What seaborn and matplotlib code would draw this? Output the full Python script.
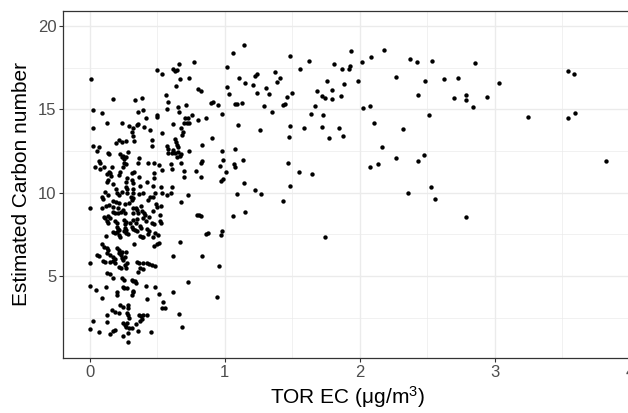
import matplotlib
matplotlib.use("Agg")
import matplotlib.pyplot as plt
import seaborn as sns
import pandas as pd
from matplotlib.ticker import MultipleLocator

# (TOR EC, estimated carbon number), grouped by EC range
low_points = [
    (0.502,17.36),(0.534,17.12),(0.009,16.82),(0.566,15.88),(0.176,15.6),(0.337,15.56),(0.391,15.68),
    (0.579,15.46),(0.028,14.96),(0.095,14.78),(0.361,14.86),(0.394,14.96),(0.571,15.0),(0.502,14.66),
    (0.497,14.56),(0.418,14.5),(0.127,14.2),(0.238,14.16),(0.292,14.0),(0.324,13.86),(0.349,14.06),
    (0.361,14.12),(0.023,13.88),(0.406,13.96),(0.448,13.76),(0.534,13.6),(0.312,13.62),(0.32,13.4),
    (0.332,13.1),(0.46,13.16),(0.028,12.8),(0.068,12.76),(0.194,12.96),(0.218,13.16),(0.238,13.06),
    (0.27,13.08),(0.46,12.8),(0.574,12.8),(0.579,12.62),(0.584,12.36),(0.058,12.52),(0.139,12.4),
    (0.142,12.32),(0.226,12.32),(0.238,12.16),(0.25,12.22),(0.255,12.0),(0.27,12.12),(0.287,12.46),
    (0.369,12.1),(0.073,11.92),(0.078,11.76),(0.255,11.8),(0.27,11.72),(0.245,11.56),(0.361,11.76),
    (0.433,11.76),(0.477,11.76),(0.514,11.66),(0.041,11.52),(0.107,11.52),(0.164,11.56),(0.078,11.4),
    (0.142,11.26),(0.152,11.16),(0.127,11.1),(0.159,11.02),(0.226,11.26),(0.218,11.06),(0.312,11.16),
    (0.329,11.26),(0.477,11.2),(0.534,11.36),(0.48,10.9),(0.139,10.76),(0.132,10.62),(0.176,10.5),
    (0.275,10.86),(0.27,10.66),(0.312,10.76),(0.32,10.56),(0.369,10.96),(0.423,10.66),(0.374,10.42),
    (0.472,10.4),(0.197,10.2),(0.206,10.0),(0.221,9.86),(0.27,10.36),(0.28,10.2),(0.32,10.2),
    (0.324,10.0),(0.527,10.36),(0.115,10.06),(0.09,9.76),(0.097,9.62),(0.139,9.86),(0.238,10.06),
    (0.275,10.0),(0.305,9.76),(0.32,9.66),(0.369,9.9),(0.394,10.0),(0.485,9.96),(0.472,9.72),
    (0.534,10.0),(0.571,9.86),(0.0,9.06),(0.095,9.1),(0.122,9.22),(0.171,9.5),(0.194,9.46),
    (0.221,9.4),(0.147,9.26),(0.176,9.16),(0.208,9.06),(0.26,9.3),(0.29,9.4),(0.317,9.56),
    (0.344,9.1),(0.354,8.96),(0.381,9.22),(0.435,9.56),(0.448,9.76),(0.49,9.32),(0.497,9.16),
    (0.527,9.22),(0.107,8.56),(0.139,8.6),(0.152,8.46),(0.176,8.86),(0.191,8.76),(0.213,8.76),
    (0.233,8.86),(0.25,8.96),(0.263,8.76),(0.32,9.06),(0.324,8.8),(0.359,8.76),(0.386,8.9),
    (0.403,8.76),(0.413,8.66),(0.443,8.56),(0.472,8.9),(0.522,8.66),(0.117,8.46),(0.127,8.32),
    (0.134,8.2),(0.189,8.3),(0.201,8.16),(0.255,8.36),(0.27,8.26),(0.265,8.1),(0.3,8.2),
    (0.32,8.36),(0.349,8.4),(0.344,8.16),(0.398,8.46),(0.418,8.32),(0.46,8.2),(0.477,8.12),
    (0.522,8.3),(0.529,8.16),(0.201,7.96),(0.213,7.8),(0.206,7.66),(0.221,7.76),(0.263,7.86),
    (0.27,7.76),(0.255,7.7),(0.312,7.96),(0.324,7.8),(0.337,7.76),(0.349,7.68),(0.374,8.02),
    (0.384,7.86),(0.423,7.8),(0.438,7.7),(0.431,7.5),(0.12,7.4),(0.176,7.66),(0.189,7.56),
    (0.218,7.46),(0.226,7.32),(0.27,7.6),(0.282,7.5),(0.374,7.4),(0.386,7.36),(0.398,7.32),
    (0.485,7.56),(0.51,7.46),(0.467,7.32),(0.093,6.9),(0.107,6.76),(0.127,6.66),(0.139,6.56),
    (0.329,6.9),(0.477,6.8),(0.497,6.9),(0.517,6.96),(0.206,6.66),(0.221,6.56),(0.238,6.46),
    (0.268,6.46),(0.127,6.36),(0.152,6.26),(0.053,6.26),(0.073,6.2),(0.176,6.16),(0.189,6.02),
    (0.171,5.92),(0.218,6.36),(0.231,6.26),(0.263,6.16),(0.097,5.92),(0.115,5.86),(0.152,5.82),
    (0.189,5.76),(0.241,6.06),(0.25,5.96),(0.263,5.66),(0.275,5.76),(0.354,5.84),(0.369,5.76),
    (0.394,5.8),(0.423,5.76),(0.443,5.7),(0.46,5.66),(0.482,5.62),(0.374,5.46),(0.398,5.4),
    (0.216,5.56),(0.233,5.5),(0.268,5.46),(0.0,5.8),(0.132,5.16),(0.152,5.12),(0.176,4.86),
    (0.357,5.26),(0.243,4.88),(0.255,4.76),(0.312,4.76),(0.324,4.7),(0.337,4.72),(0.344,4.56),
    (0.006,4.42),(0.048,4.16),(0.122,4.32),(0.201,4.02),(0.206,3.86),(0.245,4.32),(0.255,4.26),
    (0.275,4.26),(0.32,4.12),(0.324,4.02),(0.312,3.86),(0.418,4.4),(0.485,4.32),(0.09,3.7),
    (0.512,3.9),(0.541,3.46),(0.534,3.06),(0.559,3.06),(0.423,3.6),(0.226,3.26),(0.245,3.16),
    (0.167,2.96),(0.189,2.86),(0.287,3.26),(0.282,3.06),(0.127,2.66),(0.028,2.3),(0.221,2.8),
    (0.277,2.76),(0.287,2.66),(0.364,2.66),(0.379,2.6),(0.398,2.66),(0.423,2.66),(0.295,2.46),
    (0.389,2.4),(0.127,2.26),(0.073,1.66),(0.0,1.8),(0.189,1.76),(0.176,1.7),(0.245,2.16),
    (0.263,2.06),(0.275,2.2),(0.27,1.96),(0.295,1.86),(0.282,1.56),(0.315,1.86),(0.344,2.12),
    (0.361,1.7),(0.374,2.3),(0.152,1.5),(0.245,1.4),(0.453,1.66),(0.285,1.06),
]

mid_points = [
    (1.144,18.85),(1.06,18.36),(0.773,17.85),(0.665,17.71),(1.015,17.51),(0.616,17.4),(0.63,17.31),
    (0.65,17.35),(0.67,16.83),(0.739,16.87),(1.109,16.89),(1.151,16.59),(1.212,16.45),(1.225,17.0),
    (1.237,17.11),(1.371,17.23),(1.41,16.89),(1.39,16.65),(0.638,16.39),(1.015,16.32),(1.306,16.26),
    (0.803,16.21),(0.825,16.09),(1.035,15.91),(1.242,15.99),(1.329,15.91),(0.897,15.36),(0.917,15.42),
    (0.953,15.26),(0.714,15.28),(1.077,15.3),(1.09,15.31),(1.131,15.38),(1.292,15.21),(1.435,15.26),
    (1.447,15.3),(0.657,15.12),(1.349,14.84),(0.664,14.84),(0.983,14.72),(0.759,14.66),(0.709,14.46),
    (0.726,14.46),(0.805,14.37),(0.862,14.46),
    (0.62,14.11),(0.70,14.16),(0.72,14.19),(0.74,14.16),(1.097,14.08),(1.262,13.77),(0.68,13.86),
    (0.694,13.65),(0.685,13.45),(0.633,13.22),(0.643,13.06),(0.645,12.86),(0.657,12.76),(0.83,12.86),
    (0.907,13.26),(1.079,12.62),(0.983,12.5),(0.736,12.5),(0.62,12.56),(0.633,12.36),(0.657,12.42),
    (0.67,12.2),(0.68,12.3),(0.645,12.16),(0.608,12.36),(0.99,11.96),(1.138,11.94),(0.83,11.9),
    (0.825,11.78),(1.07,11.7),(1.075,11.56),(0.966,11.6),(0.677,11.8),(0.60,11.7),(0.61,11.4),
    (0.70,11.3),(0.786,11.31),(1.01,11.22),(0.70,10.92),(0.823,10.92),(0.99,10.82),(0.975,10.7),
    (1.144,10.56),(0.608,10.36),(1.228,10.16),(1.272,9.92),(1.09,9.92),(0.603,9.96),(0.731,9.88),
    (0.677,9.46),(1.43,9.52),(0.798,8.68),(0.81,8.64),(0.827,8.58),(1.153,8.86),(1.064,8.62),
    (0.86,7.52),(0.875,7.56),(0.983,7.7),(0.971,7.44),
    (0.67,7.06),(0.616,6.2),(0.83,6.18),(0.961,5.62),(0.731,4.66),(0.62,4.04),(0.941,3.72),
    (0.665,2.7),(0.682,1.96),
]

high_points = [
    (2.18,18.54),(1.936,18.49),(1.484,18.21),(2.086,18.15),(2.375,18.01),(2.422,17.82),(2.537,17.92),
    (2.017,17.82),(1.625,17.89),(1.81,17.71),(1.93,17.61),(1.92,17.39),(1.869,17.39),(1.558,17.43),
    (2.266,16.95),(1.99,16.69),(1.756,16.69),(1.886,16.51),(2.483,16.68),(2.622,16.83),(2.727,16.87),
    (1.682,16.09),(1.795,16.14),(1.501,15.99),(1.462,15.75),(1.719,15.79),(1.741,15.65),(1.795,15.6),
    (1.862,15.81),(2.432,15.86),(2.70,15.66),(1.667,15.17),(2.076,15.17),(2.024,15.07),(1.64,14.73),
    (1.73,14.63),(2.513,14.68),(2.104,14.2),(1.482,14.0),(1.588,13.86),(1.719,13.92),(1.85,13.88),
    (2.323,13.82),
    (1.474,13.31),(1.77,13.3),(1.878,13.42),(2.167,12.72),(1.467,11.76),(1.551,11.24),(1.645,11.1),
    (1.484,10.41),(2.079,11.52),(2.138,11.72),(2.266,12.08),(2.434,11.92),(2.473,12.26),(2.355,10.0),
    (2.528,10.32),(2.557,9.62),(1.743,7.32),
    (2.856,17.78),(3.029,16.59),(3.544,17.29),(3.588,17.11),(2.789,15.85),(2.789,15.54),(2.94,15.73),
    (2.836,15.11),(3.243,14.55),(3.544,14.49),(3.596,14.77),(3.823,11.88),(2.789,8.56),
]

x_label = "TOR EC (μg/m$^3$)"
y_label = "Estimated Carbon number"

df = pd.DataFrame(low_points + mid_points + high_points, columns=["ec", "carbon"])

sns.set_theme(style="white")
plt.rcParams['font.family'] = ['Liberation Sans', 'DejaVu Sans']
plt.rcParams['mathtext.fontset'] = 'custom'
plt.rcParams['mathtext.rm'] = 'Liberation Sans'
plt.rcParams['mathtext.it'] = 'Liberation Sans:italic'

W, H = 628, 413
fig = plt.figure(figsize=(W / 100, H / 100), dpi=100)
fig.patch.set_facecolor("white")
left, right, top, bottom = 63.3, 632.6, 10.7, 358.0
ax = fig.add_axes([left / W, (H - bottom) / H, (right - left) / W, (bottom - top) / H])
ax.set_facecolor("white")

sns.scatterplot(data=df, x="ec", y="carbon", ax=ax, color="black", s=10,
                linewidth=0, zorder=3)

ax.set_xlim(-0.194, 4.02)
ax.set_ylim(0.078, 20.91)
ax.xaxis.set_major_locator(MultipleLocator(1))
ax.xaxis.set_minor_locator(MultipleLocator(0.5))
ax.yaxis.set_major_locator(MultipleLocator(5))
ax.yaxis.set_minor_locator(MultipleLocator(2.5))
ax.grid(which="major", color="#EBEBEB", lw=1.0, zorder=0)
ax.grid(which="minor", color="#EBEBEB", lw=0.5, zorder=0)
ax.set_axisbelow(True)

for sp in ax.spines.values():
    sp.set_color("#333333")
    sp.set_linewidth(0.9)

ax.tick_params(which="major", length=3, width=0.8, color="#333333",
               labelcolor="#4D4D4D", labelsize=12, pad=2, bottom=True, left=True)
ax.tick_params(which="minor", length=0)

ax.set_xlabel(x_label, fontsize=15, color="black", labelpad=3)
ax.set_ylabel(y_label, fontsize=15, color="black", labelpad=5)

fig.savefig("out.png", dpi=100)
